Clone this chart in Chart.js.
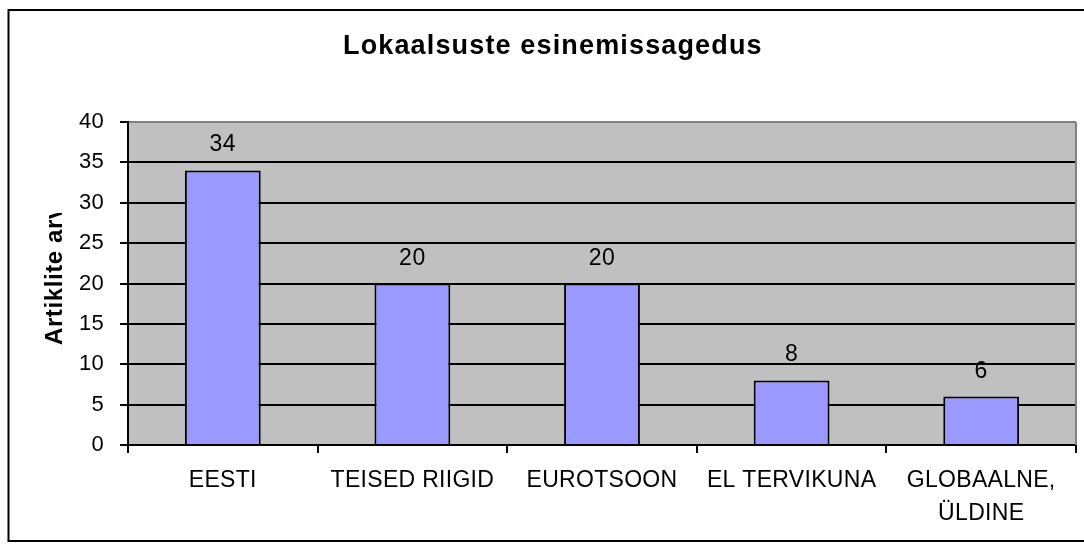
<!DOCTYPE html>
<html><head><meta charset="utf-8">
<script src="https://cdn.jsdelivr.net/npm/chart.js@4.4.1/dist/chart.umd.min.js"></script>
<style>html,body{margin:0;padding:0;background:#fff;overflow:hidden}#wrap{width:1084px;height:550px;position:relative}</style>
</head><body><div id="wrap"><canvas id="c" width="1084" height="550"></canvas></div>
<script>
const categories = ['EESTI', 'TEISED RIIGID', 'EUROTSOON', 'EL TERVIKUNA', ['GLOBAALNE,', 'ÜLDINE']];
const values = [34, 20, 20, 8, 6];
const yTicks = [0, 5, 10, 15, 20, 25, 30, 35, 40];
const chartTitle = 'Lokaalsuste esinemissagedus';
const yAxisTitle = 'Artiklite arv';

const FONT = '"Liberation Sans", Arial, sans-serif';

const deco = {
  id: 'deco',
  beforeDraw(chart) {
    const { ctx, chartArea: a } = chart;
    ctx.save();
    ctx.fillStyle = '#fff';
    ctx.fillRect(0, 0, chart.width, chart.height);
    ctx.fillStyle = '#C0C0C0';
    ctx.fillRect(a.left, a.top, a.right - a.left, a.bottom - a.top);
    ctx.restore();
    ctx.letterSpacing = '0.3px';
  },
  beforeDatasetsDraw(chart) {
    const { ctx, chartArea: a } = chart;
    ctx.save();
    ctx.strokeStyle = '#808080';
    ctx.lineWidth = 2;
    ctx.beginPath();
    ctx.moveTo(a.right, a.top);
    ctx.lineTo(a.right, a.bottom);
    ctx.stroke();
    ctx.restore();
  },
  afterDatasetsDraw(chart) {
    const { ctx } = chart;
    const meta = chart.getDatasetMeta(0);
    ctx.save();
    ctx.font = '23px ' + FONT;
    ctx.fillStyle = '#000';
    ctx.textAlign = 'center';
    ctx.textBaseline = 'alphabetic';
    ctx.letterSpacing = '0.5px';
    meta.data.forEach((bar, i) => {
      ctx.fillText(String(values[i]), bar.x, bar.y - 19);
    });
    ctx.restore();
  },
  afterDraw(chart) {
    const { ctx } = chart;
    ctx.save();
    // title
    ctx.font = 'bold 27px ' + FONT;
    ctx.letterSpacing = '1.15px';
    ctx.fillStyle = '#000';
    ctx.textAlign = 'left';
    ctx.textBaseline = 'alphabetic';
    ctx.fillText(chartTitle, 343, 54);
    // y axis title (clipped)
    ctx.save();
    ctx.beginPath();
    ctx.rect(0, 213, 120, 300);
    ctx.clip();
    ctx.translate(62, 345);
    ctx.rotate(-Math.PI / 2);
    ctx.font = 'bold 24px ' + FONT;
    ctx.letterSpacing = '0.6px';
    ctx.fillText(yAxisTitle, 0, 0);
    ctx.restore();
    // outer border
    ctx.strokeStyle = '#000';
    ctx.lineWidth = 2;
    ctx.strokeRect(8.5, 10, 1200, 531);
    ctx.restore();
  }
};

new Chart(document.getElementById('c'), {
  type: 'bar',
  data: {
    labels: categories,
    datasets: [{
      data: values,
      backgroundColor: '#9999FF',
      borderColor: '#000',
      borderWidth: 2,
      barPercentage: 0.4,
      categoryPercentage: 1.0
    }]
  },
  options: {
    responsive: false,
    animation: false,
    devicePixelRatio: 1,
    layout: { padding: { top: 122, left: 0, right: 8, bottom: 0 } },
    plugins: { legend: { display: false }, title: { display: false }, tooltip: { enabled: false } },
    scales: {
      x: {
        afterFit(s) { s.height = 105; },
        ticks: { font: { family: FONT, size: 23, lineHeight: 1.4 }, color: '#000', padding: 12, maxRotation: 0, autoSkip: false },
        grid: { drawOnChartArea: false, offset: true, tickLength: 8, color: '#000', lineWidth: 2 },
        border: { color: '#000', width: 2 }
      },
      y: {
        min: 0, max: 40,
        afterFit(s) { s.width = 128; },
        afterBuildTicks(s) { s.ticks = yTicks.map(v => ({ value: v })); },
        ticks: { font: { family: FONT, size: 22 }, color: '#000', padding: 16 },
        grid: { color: c => (c.tick && c.tick.value === 40 ? '#808080' : '#000'), tickColor: '#000', lineWidth: 2, tickLength: 8 },
        border: { color: '#000', width: 2 }
      }
    }
  },
  plugins: [deco]
});
</script></body></html>
